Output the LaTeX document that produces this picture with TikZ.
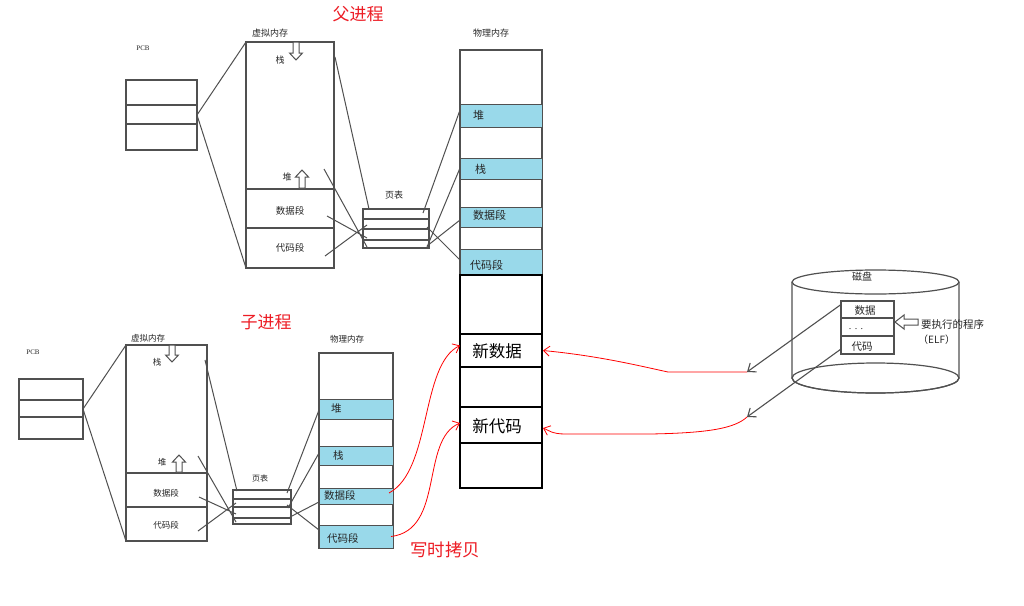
\documentclass[tikz,border=0pt]{standalone}
\usepackage{fontspec}
\setmainfont{Noto Sans CJK SC}
\newfontfamily\latserif{Liberation Serif}
\usetikzlibrary{arrows.meta,calc}
\definecolor{bandblue}{RGB}{153,217,234}
\definecolor{pred}{RGB}{237,28,36}
\definecolor{sk}{RGB}{80,80,80}
\newcommand\hdarrow[3]{\draw[harrow] ({#1-3},#2) -- ({#1+3},#2) -- ({#1+3},{#3-7}) -- ({#1+6.5},{#3-7}) -- (#1,#3) -- ({#1-6.5},{#3-7}) -- ({#1-3},{#3-7}) -- cycle;}
\newcommand\huarrow[3]{\draw[harrow] ({#1-3},#3) -- ({#1+3},#3) -- ({#1+3},{#2+7}) -- ({#1+6.5},{#2+7}) -- (#1,#2) -- ({#1-6.5},{#2+7}) -- ({#1-3},{#2+7}) -- cycle;}
\tikzset{
  box/.style={draw=sk, line width=1.1pt, inner sep=0pt, outer sep=0pt},
  divider/.style={draw=sk, line width=1.1pt},
  band/.style={draw=sk, fill=bandblue, line width=0.8pt, inner sep=0pt, outer sep=0pt},
  newbox/.style={draw=black, line width=2.3pt, inner sep=0pt, outer sep=0pt},
  conn/.style={draw=sk, line width=1pt},
  harrow/.style={draw=sk, fill=white, line width=1pt},
  lbl/.style={inner sep=0pt, text=black!85},
  redlbl/.style={inner sep=0pt, text=pred, font=\fontsize{17}{18}\selectfont},
  redline/.style={draw=red, line width=0.8pt, -{Straight Barb[length=6pt,width=10pt]}},
  grayarr/.style={draw=sk, line width=1.1pt, -{Straight Barb[length=7pt,width=11pt]}},
}
\begin{document}
\begin{tikzpicture}[x=1pt,y=-1pt]
\useasboundingbox (0,0) rectangle (1024,605);
\fill[white] (0,0) rectangle (1024,605);

% ================= Parent =================
\node[redlbl] (ptitle) at (358,14) {父进程};
% PCB
\node[lbl, font=\fontsize{7}{8}\selectfont\latserif] (ppcbl) at (143,48) {PCB};
\node[box, minimum width=71pt, minimum height=70pt] (pPCB) at (161.5,115) {};
\draw[divider] (126,105) -- (197,105) (126,124) -- (197,124);
% virtual memory
\node[lbl, font=\fontsize{9}{10}\selectfont] (pvml) at (270,33) {虚拟内存};
\node[box, minimum width=88pt, minimum height=226pt] (pVM) at (290,155) {};
\draw[divider] (246,189) -- (334,189) (246,228) -- (334,228);
\node[lbl, font=\fontsize{9}{10}\selectfont] (pst) at (280,60) {栈};
\hdarrow{296}{42}{60}
\node[lbl, font=\fontsize{9}{10}\selectfont] (php) at (287,177) {堆};
\huarrow{302}{170}{188}
\node[lbl, font=\fontsize{9.5}{10}\selectfont] (pds) at (290,211) {数据段};
\node[lbl, font=\fontsize{9.5}{10}\selectfont] (pcs) at (290,248) {代码段};
\draw[conn] (pPCB.east) -- (pVM.north west);
\draw[conn] (pPCB.east) -- (pVM.south west);
% page table
\node[lbl, font=\fontsize{9}{10}\selectfont] (pptl) at (394,195) {页表};
\node[box, minimum width=66pt, minimum height=39pt] (pPT) at (396,228.5) {};
\draw[divider] (363,219) -- (429,219) (363,229) -- (429,229) (363,240) -- (429,240);
% physical memory
\node[lbl, font=\fontsize{9}{10}\selectfont] (ppml) at (491,33) {物理内存};
\node[box, minimum width=82pt, minimum height=225pt] (pPM) at (501,162.5) {};
\node[band, minimum width=82pt, minimum height=23pt] (pHeap) at (501,115.5) {};
\node[band, minimum width=82pt, minimum height=21pt] (pStack) at (501,168.5) {};
\node[band, minimum width=82pt, minimum height=20pt] (pData) at (501,217) {};
\node[band, minimum width=82pt, minimum height=26pt] (pCode) at (501,262) {};
\node[lbl, anchor=west, font=\fontsize{11}{12}\selectfont] at (473,115) {堆};
\node[lbl, anchor=west, font=\fontsize{11}{12}\selectfont] at (475,169) {栈};
\node[lbl, anchor=west, font=\fontsize{11}{12}\selectfont] at (473,215) {数据段};
\node[lbl, anchor=west, font=\fontsize{11}{12}\selectfont] at (470,265) {代码段};
% VM -> PT
\coordinate (pv1) at (335,57);  \coordinate (pt1) at (369,209);
\coordinate (pv2) at (324,169); \coordinate (pt2) at (367,247);
\coordinate (pv3) at (327,216); \coordinate (pt3) at (367,238);
\coordinate (pv4) at (325,256); \coordinate (pt4) at (367,225);
\draw[conn] (pv1) -- (pt1) (pv2) -- (pt2) (pv3) -- (pt3) (pv4) -- (pt4);
% PT -> PM
\coordinate (pr1) at (423,213); \coordinate (pm1) at (460,110);
\coordinate (pr2) at (427,247); \coordinate (pm2) at (460,168);
\coordinate (pr3) at (427,246); \coordinate (pm3) at (460,220);
\coordinate (pr4) at (427,227); \coordinate (pm4) at (460,260);
\draw[conn] (pr1) -- (pm1) (pr2) -- (pm2) (pr3) -- (pm3) (pr4) -- (pm4);

% new physical blocks
\node[newbox, minimum width=82pt, minimum height=213pt] (pNew) at (501,381.5) {};
\node[newbox, minimum width=82pt, minimum height=33pt] (nData) at (501,350.5) {};
\node[newbox, minimum width=82pt, minimum height=36pt] (nCode) at (501,425) {};
\node[inner sep=0pt, font=\fontsize{16.5}{18}\selectfont] (nDatal) at (497,351) {新数据};
\node[inner sep=0pt, font=\fontsize{16.5}{18}\selectfont] (nCodel) at (497,426) {新代码};

% ================= Child =================
\node[redlbl] (ctitle) at (266,322) {子进程};
\node[lbl, font=\fontsize{7}{8}\selectfont\latserif] (cpcbl) at (33,352) {PCB};
\node[box, minimum width=64pt, minimum height=60pt] (cPCB) at (51,409) {};
\draw[divider] (19,400) -- (83,400) (19,417) -- (83,417);
\node[lbl, font=\fontsize{8.5}{10}\selectfont] (cvml) at (148,338) {虚拟内存};
\node[box, minimum width=81pt, minimum height=196pt] (cVM) at (166.5,443) {};
\draw[divider] (126,473) -- (207,473) (126,507) -- (207,507);
\node[lbl, font=\fontsize{8.5}{10}\selectfont] (cst) at (157,362) {栈};
\hdarrow{172}{345}{362}
\node[lbl, font=\fontsize{8.5}{10}\selectfont] (chp) at (162,462) {堆};
\huarrow{179}{455}{472}
\node[lbl, font=\fontsize{8.5}{10}\selectfont] (cds) at (166,493) {数据段};
\node[lbl, font=\fontsize{8.5}{10}\selectfont] (ccs) at (166,525) {代码段};
\draw[conn] (cPCB.east) -- (cVM.north west);
\draw[conn] (cPCB.east) -- (cVM.south west);
% page table
\node[lbl, font=\fontsize{8}{9}\selectfont] (cptl) at (260,478) {页表};
\node[box, minimum width=58pt, minimum height=34pt] (cPT) at (262,507) {};
\draw[divider] (233,499) -- (291,499) (233,507) -- (291,507) (233,518) -- (291,518);
% physical memory
\node[lbl, font=\fontsize{8.5}{10}\selectfont] (cpml) at (347,339) {物理内存};
\node[box, minimum width=74pt, minimum height=195pt] (cPM) at (356,450.5) {};
\node[band, minimum width=74pt, minimum height=20pt] (cHeap) at (356,409) {};
\node[band, minimum width=74pt, minimum height=19pt] (cStack) at (356,455.5) {};
\node[band, minimum width=74pt, minimum height=16pt] (cData) at (356,496) {};
\node[band, minimum width=74pt, minimum height=23pt] (cCode) at (356,536.5) {};
\node[lbl, anchor=west, font=\fontsize{10.5}{12}\selectfont] at (331,409) {堆};
\node[lbl, anchor=west, font=\fontsize{10.5}{12}\selectfont] at (333,456) {栈};
\node[lbl, anchor=west, font=\fontsize{10.5}{12}\selectfont] at (324,495) {数据段};
\node[lbl, anchor=west, font=\fontsize{10.5}{12}\selectfont] at (327,538) {代码段};
% VM -> PT
\coordinate (cv1) at (205,360); \coordinate (ct1) at (237,491);
\coordinate (cv2) at (198,456); \coordinate (ct2) at (236,522);
\coordinate (cv3) at (199,497); \coordinate (ct3) at (236,514);
\coordinate (cv4) at (198,531); \coordinate (ct4) at (236,503);
\draw[conn] (cv1) -- (ct1) (cv2) -- (ct2) (cv3) -- (ct3) (cv4) -- (ct4);
% PT -> PM
\coordinate (cr1) at (287,493); \coordinate (cm1) at (319,410);
\coordinate (cr2) at (288,508); \coordinate (cm2) at (319,453);
\coordinate (cr3) at (290,517); \coordinate (cm3) at (319,502);
\coordinate (cr4) at (287,505); \coordinate (cm4) at (319,530);
\draw[conn] (cr1) -- (cm1) (cr2) -- (cm2) (cr3) -- (cm3) (cr4) -- (cm4);

% copy on write
\node[redlbl, font=\fontsize{17.5}{19}\selectfont] (cow) at (445,550) {写时拷贝};
\draw[redline] ([xshift=-4pt,yshift=3pt]cData.east) .. controls (432,470) and (420,365) .. ([yshift=5pt]nData.west);
\draw[redline] ([xshift=-2pt]cCode.east) .. controls (445,530) and (420,440) .. ([yshift=2pt]nCode.west);

% ================= Disk =================
\draw[draw=sk, line width=1.2pt, fill=white] (792,282) -- (792,378) arc[start angle=180, end angle=360, x radius=83.5pt, y radius=15pt] -- (959,282);
\draw[draw=sk, line width=1.2pt] (875.5,378) ellipse[x radius=83.5pt, y radius=15pt];
\draw[draw=sk, line width=1.2pt, fill=white] (875.5,282) ellipse[x radius=83.5pt, y radius=12pt];
\node[lbl, font=\fontsize{10}{11}\selectfont] (disk) at (862,277) {磁盘};
\node[box, fill=white, minimum width=53pt, minimum height=53pt] (dkBox) at (867.5,327.5) {};
\node[box, minimum width=53pt, minimum height=17pt] (dkData) at (867.5,309.5) {};
\node[box, minimum width=53pt, minimum height=18pt] (dkCode) at (867.5,345) {};
\node[lbl, font=\fontsize{10.5}{12}\selectfont] at (865,311) {数据};
\node[lbl, font=\fontsize{10}{12}\selectfont\latserif] at (856,329) {. . .};
\node[lbl, font=\fontsize{10.5}{12}\selectfont] at (862,347) {代码};
\draw[harrow] (918,319) -- (904,319) -- (904,315) -- (895,322) -- (904,329) -- (904,325) -- (918,325) -- cycle;
\node[lbl, anchor=west, font=\fontsize{10.5}{12}\selectfont] (elf1) at (921,324) {要执行的程序};
\node[lbl, anchor=west, font=\fontsize{10}{12}\selectfont] (elf2) at (918,340) {（ELF）};
\coordinate (dA) at (747,372);
\coordinate (dB) at (747,417);
\draw[grayarr] ([yshift=5pt]dkData.west) -- (dA);
\draw[grayarr] ([yshift=-4pt]dkCode.west) -- (dB);
\draw[redline] (dA) -- (668,372) .. controls (640,366) and (600,356) .. ([xshift=1pt]nData.east);
\draw[redline] (dB) .. controls (735,428) and (710,433) .. (650,434) -- (565,434) .. controls (552,434) and (548,430) .. ([xshift=1pt,yshift=-3pt]nCode.east);
\end{tikzpicture}
\end{document}
